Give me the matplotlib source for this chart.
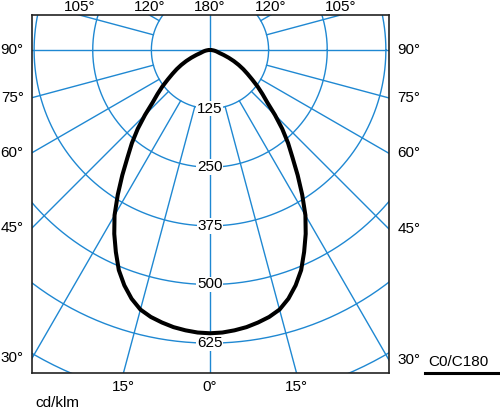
import numpy as np
import matplotlib.pyplot as plt
from matplotlib.lines import Line2D

plt.rcParams['font.family'] = ['Liberation Sans', 'DejaVu Sans']

# Luminous intensity (cd/klm) vs angle from nadir, C0/C180 plane (symmetric)
angles = [0, 2.5, 5, 7.5, 10, 12.5, 15, 17.5, 20, 22.5, 25, 27.5, 30, 32.5,
          35, 37.5, 40, 42.5, 45, 47.5, 50, 52.5, 55, 57.5, 60, 62.5, 65,
          67.5, 70, 72.5, 75, 77.5, 80, 82.5, 85, 87.5, 90]
intensity = [604, 603, 600, 596, 590, 583, 573, 556, 534, 508, 475, 442,
             407, 366, 326, 289, 259, 228, 196, 166, 146, 128, 110, 95,
             82, 69, 56, 43, 31, 21, 17, 14, 11, 8, 5, 3, 0]

rings = [125, 250, 375, 500, 625, 750]
ring_labels = ['125', '250', '375', '500', '625']
spokes = [15, 30, 45, 60, 75, 105, 120, 135, 150, 165]
side_ticks = [90, 75, 60, 45, 30]
top_ticks = [105, 120, 180]
bottom_ticks = [15, 0]

grid_col = '#1f88d2'

fig = plt.figure(figsize=(5.0, 4.09), dpi=100)
ax = fig.add_axes([32/500, 36/409, 357/500, 358/409])
xmin, xmax = -379.5, 381.7
ymin, ymax = -688.7, 74.6
ax.set_xlim(xmin, xmax)
ax.set_ylim(ymin, ymax)
ax.set_xticks([])
ax.set_yticks([])
for s in ax.spines.values():
    s.set_linewidth(1.2)
    s.set_color('#222222')
    s.set_zorder(10)

# rings
t = np.linspace(0, 2*np.pi, 400)
for r in rings:
    ax.plot(r*np.cos(t), r*np.sin(t), color=grid_col, lw=1.0, zorder=1)

# spokes starting at the first ring
for g in spokes:
    gr = np.radians(g)
    for sgn in (-1, 1):
        ax.plot([sgn*125*np.sin(gr), sgn*1200*np.sin(gr)],
                [-125*np.cos(gr), -1200*np.cos(gr)],
                color=grid_col, lw=1.0, zorder=1)
ax.axhline(0, color=grid_col, lw=1.0, zorder=1)
ax.axvline(0, color=grid_col, lw=1.0, zorder=1)

# ring labels
for r, lab in zip(rings, ring_labels):
    ax.text(0, -r, lab, ha='center', va='center', fontsize=11, zorder=3,
            bbox=dict(facecolor='white', edgecolor='none', pad=0.6))

# intensity curve
full_ang = [-a for a in angles[::-1]] + angles[1:]
full_int = intensity[::-1] + intensity[1:]
ga = np.radians(full_ang)
ri = np.array(full_int)
ax.plot(ri*np.sin(ga), -ri*np.cos(ga), color='black', lw=2.9, zorder=5,
        solid_joinstyle='round', solid_capstyle='round')

# angle labels
for g in side_ticks:
    gr = np.radians(g)
    for sgn, xe, ha, off in ((-1, xmin, 'right', -6), (1, xmax, 'left', 6)):
        rr = abs(xe)/np.sin(gr)
        ax.annotate(f'{g}°', (xe, -rr*np.cos(gr)), xytext=(off, 0),
                    textcoords='offset points', ha=ha, va='center',
                    fontsize=11, annotation_clip=False)
for g in top_ticks:
    gr = np.radians(g)
    rr = -ymax/np.cos(gr)
    for sgn in ((-1, 1) if g != 180 else (1,)):
        ax.annotate(f'{g}°', (sgn*rr*np.sin(gr), ymax), xytext=(0, 1),
                    textcoords='offset points', ha='center', va='bottom',
                    fontsize=11, annotation_clip=False)
for g in bottom_ticks:
    gr = np.radians(g)
    rr = -ymin/np.cos(gr)
    for sgn in ((-1, 1) if g != 0 else (1,)):
        ax.annotate(f'{g}°', (sgn*rr*np.sin(gr), ymin), xytext=(0, -5),
                    textcoords='offset points', ha='center', va='top',
                    fontsize=11, annotation_clip=False)

fig.text(35/500, 1 - 403/409, 'cd/klm', ha='left', va='center', fontsize=11)
fig.text(428/500, 1 - 362/409, 'C0/C180', ha='left', va='center', fontsize=11)
fig.add_artist(Line2D([425/500, 499/500], [1 - 373/409, 1 - 373/409],
                      transform=fig.transFigure, color='black', lw=2.2))

fig.savefig('out.png', dpi=100, facecolor='white')
